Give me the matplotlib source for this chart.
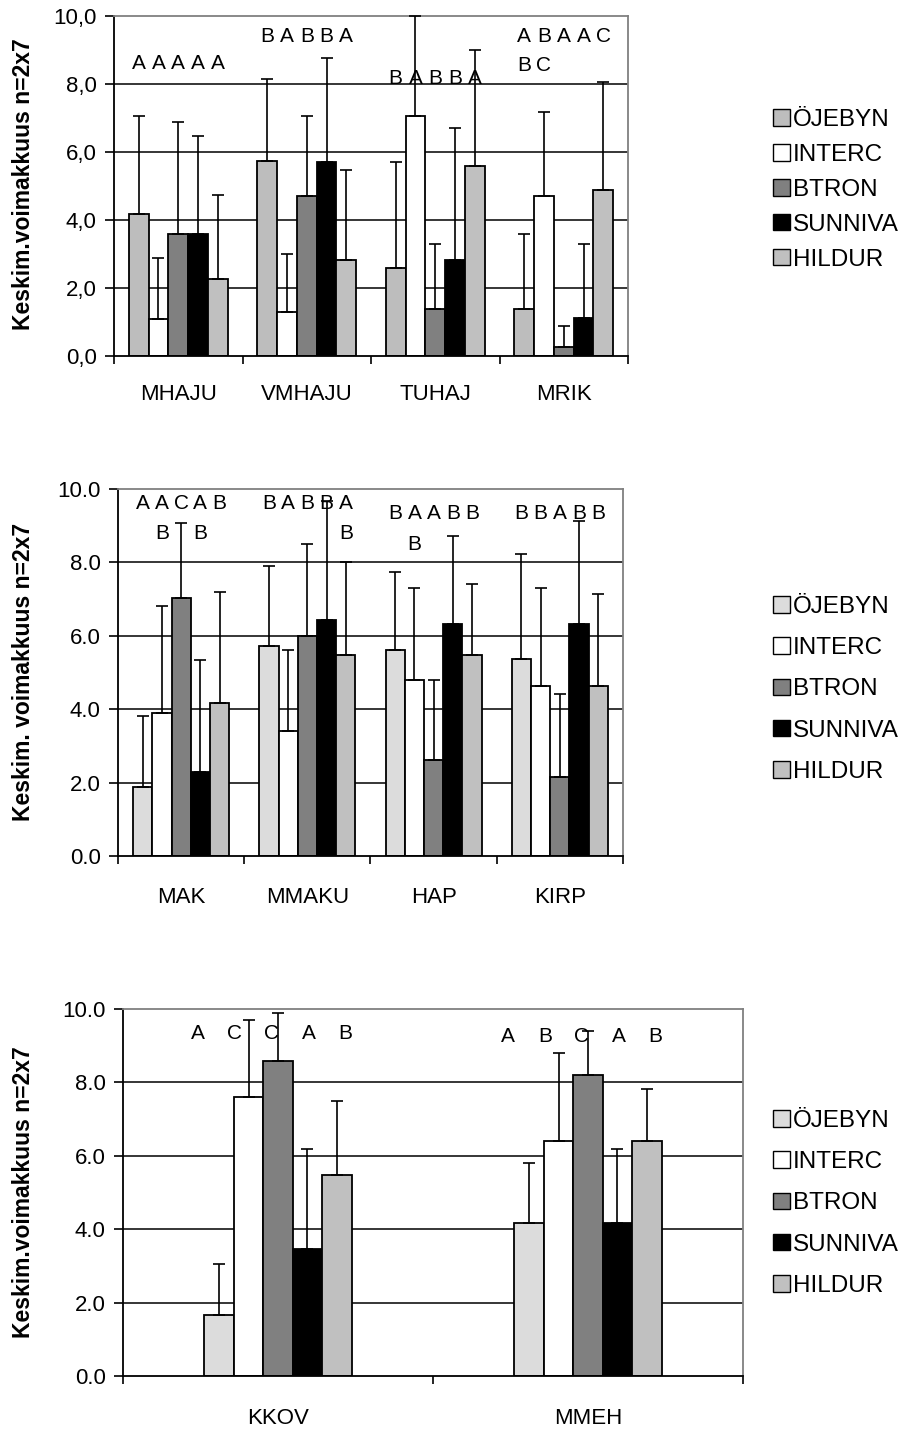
import matplotlib
matplotlib.use('Agg')
import matplotlib.pyplot as plt
from matplotlib.patches import Patch
from matplotlib.ticker import FuncFormatter
import numpy as np

plt.rcParams['font.family'] = ['Liberation Sans', 'DejaVu Sans']

SERIES = ['ÖJEBYN', 'INTERC', 'BTRON', 'SUNNIVA', 'HILDUR']
YLABEL_1 = 'Keskim.voimakkuus n=2x7'
YLABEL_2 = 'Keskim. voimakkuus n=2x7'
YLABEL_3 = 'Keskim.voimakkuus n=2x7'

# ---------------- Panel 1 data ----------------
CATS_1 = ['MHAJU', 'VMHAJU', 'TUHAJ', 'MRIK']
P1_OJEBYN = [4.17, 5.75, 2.58, 1.39]
P1_INTERC = [1.10, 1.28, 7.06, 4.70]
P1_BTRON = [3.58, 4.70, 1.39, 0.27]
P1_SUNNIVA = [3.58, 5.72, 2.82, 1.12]
P1_HILDUR = [2.27, 2.81, 5.58, 4.88]
P1_ERR_OJEBYN = [2.89, 2.40, 3.12, 2.19]
P1_ERR_INTERC = [1.77, 1.71, 2.94, 2.48]
P1_ERR_BTRON = [3.30, 2.36, 1.89, 0.60]
P1_ERR_SUNNIVA = [2.89, 3.04, 3.88, 2.16]
P1_ERR_HILDUR = [2.48, 2.65, 3.42, 3.18]
P1_LETTERS_ROW1 = ['AAAAA', 'BABBA', 'BABBA', 'ABAAC']
P1_LETTERS_ROW2 = ['     ', '     ', '     ', 'BC   ']

# ---------------- Panel 2 data ----------------
CATS_2 = ['MAK', 'MMAKU', 'HAP', 'KIRP']
P2_OJEBYN = [1.89, 5.71, 5.62, 5.38]
P2_INTERC = [3.91, 3.41, 4.79, 4.63]
P2_BTRON = [7.02, 6.00, 2.61, 2.16]
P2_SUNNIVA = [2.30, 6.44, 6.33, 6.33]
P2_HILDUR = [4.18, 5.49, 5.49, 4.63]
P2_ERR_OJEBYN = [1.92, 2.19, 2.12, 2.85]
P2_ERR_INTERC = [2.90, 2.20, 2.51, 2.67]
P2_ERR_BTRON = [2.05, 2.50, 2.18, 2.25]
P2_ERR_SUNNIVA = [3.04, 3.23, 2.39, 2.79]
P2_ERR_HILDUR = [3.01, 2.53, 1.92, 2.51]
P2_LETTERS_ROW1 = ['AACAB', 'BABBA', 'BAABB', 'BBABB']
P2_LETTERS_ROW2 = [' B B ', '    B', ' B   ', '     ']

# ---------------- Panel 3 data ----------------
CATS_3 = ['KKOV', 'MMEH']
P3_OJEBYN = [1.65, 4.17]
P3_INTERC = [7.60, 6.41]
P3_BTRON = [8.58, 8.21]
P3_SUNNIVA = [3.47, 4.18]
P3_HILDUR = [5.47, 6.41]
P3_ERR_OJEBYN = [1.40, 1.63]
P3_ERR_INTERC = [2.09, 2.39]
P3_ERR_BTRON = [1.31, 1.19]
P3_ERR_SUNNIVA = [2.72, 2.01]
P3_ERR_HILDUR = [2.02, 1.41]
P3_LETTERS_ROW1 = ['ACCAB', 'ABCAB']

# ---------------- styles ----------------
COLORS_1 = ['#BDBDBD', '#FFFFFF', '#808080', '#000000', '#C0C0C0']
COLORS_23 = ['#DCDCDC', '#FFFFFF', '#808080', '#000000', '#C0C0C0']

W, H = 912, 1430
fig = plt.figure(figsize=(W / 100, H / 100), dpi=100)


def box(l, t, r, b):
    return [l / W, 1 - b / H, (r - l) / W, (b - t) / H]


def draw_panel(ax, cats, means, errs, colors, bar_w, rows, row_ys, comma,
               xpad, spread=1.0, shift=0.0):
    n = len(cats)
    centers = np.arange(n) + 0.5
    for i in range(len(SERIES)):
        x = centers + (i - 2) * bar_w
        ax.bar(x, means[i], width=bar_w, color=colors[i], edgecolor='black',
               linewidth=1.3, zorder=2)
        eb = ax.errorbar(x, means[i], yerr=[np.zeros(n), errs[i]], fmt='none',
                         ecolor='black', elinewidth=1.2, capsize=4.5,
                         capthick=1.2, zorder=3)
        for a in eb.lines[1] + eb.lines[2]:
            a.set_clip_on(False)
    for y in [2, 4, 6, 8]:
        ax.axhline(y, color='black', lw=1.1, zorder=0.5)
    for row, ys in zip(rows, row_ys):
        for j in range(n):
            for i, ch in enumerate(row[j]):
                if ch != ' ':
                    ax.text(centers[j] + (i - 2) * bar_w * spread + shift, ys[j],
                            ch, ha='center', va='center', fontsize=15, zorder=5)
    ax.set_xlim(0, n)
    ax.set_ylim(0, 10)
    ax.set_yticks(np.arange(0, 10.1, 2))
    if comma:
        ax.yaxis.set_major_formatter(FuncFormatter(lambda v, p: f'{v:.1f}'.replace('.', ',')))
    else:
        ax.yaxis.set_major_formatter(FuncFormatter(lambda v, p: f'{v:.1f}'))
    ax.set_xticks(np.arange(0, n + 1))
    ax.set_xticklabels([''] * (n + 1))
    ax.set_xticks(centers, minor=True)
    ax.set_xticklabels(cats, minor=True, fontsize=16)
    ax.tick_params(axis='x', which='major', direction='out', length=5.5, width=1.2)
    ax.tick_params(axis='x', which='minor', length=0, pad=xpad)
    ax.tick_params(axis='y', direction='out', length=6.5, width=1.2, pad=6,
                   labelsize=16)
    for s in ['left', 'bottom']:
        ax.spines[s].set_color('black')
        ax.spines[s].set_linewidth(1.3)
    for s in ['top', 'right']:
        ax.spines[s].set_color('#808080')
        ax.spines[s].set_linewidth(1.3)


def legend(colors, left, top, spacing):
    handles = [Patch(facecolor=c, edgecolor='black', linewidth=1.0) for c in colors]
    fig.legend(handles, SERIES, loc='upper left',
               bbox_to_anchor=(left / W, 1 - top / H), frameon=False,
               fontsize=17.5, handlelength=0.68, handleheight=0.68,
               handletextpad=0.15, labelspacing=spacing, borderpad=0,
               borderaxespad=0)


# Panel 1
ax1 = fig.add_axes(box(114, 16, 628, 356))
draw_panel(ax1, CATS_1,
           [P1_OJEBYN, P1_INTERC, P1_BTRON, P1_SUNNIVA, P1_HILDUR],
           [P1_ERR_OJEBYN, P1_ERR_INTERC, P1_ERR_BTRON, P1_ERR_SUNNIVA, P1_ERR_HILDUR],
           COLORS_1, 0.154,
           [P1_LETTERS_ROW1, P1_LETTERS_ROW2],
           [[8.59, 9.39, 8.17, 9.39], [0, 0, 0, 8.54]],
           True, 20)
fig.text(24 / W, 1 - 184 / H, YLABEL_1, rotation=90, ha='center', va='center',
         fontsize=16.5, fontweight='bold')
legend(COLORS_1, 773, 109, 0.53)

# Panel 2
ax2 = fig.add_axes(box(118, 489, 623, 856))
draw_panel(ax2, CATS_2,
           [P2_OJEBYN, P2_INTERC, P2_BTRON, P2_SUNNIVA, P2_HILDUR],
           [P2_ERR_OJEBYN, P2_ERR_INTERC, P2_ERR_BTRON, P2_ERR_SUNNIVA, P2_ERR_HILDUR],
           COLORS_23, 0.152,
           [P2_LETTERS_ROW1, P2_LETTERS_ROW2],
           [[9.61, 9.61, 9.34, 9.34], [8.79, 8.79, 8.49, 0]],
           False, 22)
fig.text(24 / W, 1 - 672 / H, YLABEL_2, rotation=90, ha='center', va='center',
         fontsize=16.5, fontweight='bold')
legend(COLORS_23, 773, 596, 0.79)

# Panel 3
ax3 = fig.add_axes(box(123, 1009, 743, 1376))
draw_panel(ax3, CATS_3,
           [P3_OJEBYN, P3_INTERC, P3_BTRON, P3_SUNNIVA, P3_HILDUR],
           [P3_ERR_OJEBYN, P3_ERR_INTERC, P3_ERR_BTRON, P3_ERR_SUNNIVA, P3_ERR_HILDUR],
           COLORS_23, 0.095,
           [P3_LETTERS_ROW1],
           [[9.34, 9.25]],
           False, 23, spread=1.25, shift=-0.02)
fig.text(24 / W, 1 - 1192 / H, YLABEL_3, rotation=90, ha='center', va='center',
         fontsize=16.5, fontweight='bold')
legend(COLORS_23, 773, 1110, 0.79)

fig.savefig('out.png', dpi=100)
